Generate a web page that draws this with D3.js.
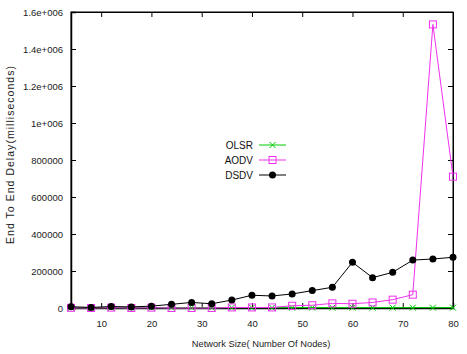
<!DOCTYPE html>
<html><head><meta charset="utf-8">
<script src="https://cdn.jsdelivr.net/npm/d3@7/dist/d3.min.js"></script>
<style>body{margin:0;background:#fff}</style>
</head><body>
<script>
const nodes = [4,8,12,16,20,24,28,32,36,40,44,48,52,56,60,64,68,72,76,80];
const olsr = [1000,1000,1500,1500,1500,1500,1500,2000,2000,2000,2000,2000,2000,2000,2000,2000,2000,2000,2000,2000];
const aodv = [1000,0,2000,0,2000,0,0,0,3000,3000,3000,12000,15000,25000,23000,30000,45000,72000,1533000,710000];
const dsdv = [7000,3000,8000,6000,10000,20000,30000,23000,43000,69000,65000,76000,94000,112000,247000,164000,193000,259000,265000,274000];
const xTicks = [10,20,30,40,50,60,70,80];
const yTicks = [0,200000,400000,600000,800000,1000000,1200000,1400000,1600000];
const yTickLabels = ["0","200000","400000","600000","800000","1e+006","1.2e+006","1.4e+006","1.6e+006"];
const seriesNames = ["OLSR","AODV","DSDV"];
const seriesColors = ["#00cc00","#f030f0","#000000"];

const W=467,H=354, L=71, R=453, T=12, B=308;
const svg = d3.select("body").append("svg").attr("width",W).attr("height",H);
const x = d3.scaleLinear().domain([4,80]).range([L,R]);
const y = d3.scaleLinear().domain([0,1600000]).range([B,T]);
const font = "'Liberation Sans', Arial, sans-serif";

// frame
svg.append("rect").attr("x",L).attr("y",T).attr("width",R-L).attr("height",B-T)
  .attr("fill","none").attr("stroke","#000").attr("stroke-width",1);

// axes (inward ticks)
const gx = svg.append("g").attr("transform",`translate(0,${B})`)
  .call(d3.axisBottom(x).tickValues(xTicks).tickSize(-5).tickPadding(12).tickFormat(d3.format("d")));
const gxt = svg.append("g").attr("transform",`translate(0,${T})`)
  .call(d3.axisTop(x).tickValues(xTicks).tickSize(-5).tickFormat(""));
const gy = svg.append("g").attr("transform",`translate(${L},0)`)
  .call(d3.axisLeft(y).tickValues(yTicks).tickSize(-5).tickPadding(8).tickFormat((d,i)=>yTickLabels[i]));
const gyr = svg.append("g").attr("transform",`translate(${R},0)`)
  .call(d3.axisRight(y).tickValues(yTicks).tickSize(-5).tickFormat(""));
[gx,gxt,gy,gyr].forEach(g=>{
  g.select(".domain").attr("stroke","#000").attr("stroke-width",1);
  g.selectAll("line").attr("stroke","#000");
  g.selectAll("text").attr("font-family",font).attr("font-size",9.5).attr("fill","#222");
});
gy.select(".domain").attr("stroke-width",1.5);
gx.select(".domain").attr("stroke-width",1.5);

const data = [olsr,aodv,dsdv];
const line = d3.line().x((d,i)=>x(nodes[i])).y(d=>y(d));

function marker(g, k, cx, cy, color){
  if(k===0){
    const s=3;
    g.append("path").attr("d",`M${cx-s},${cy-s}L${cx+s},${cy+s}M${cx-s},${cy+s}L${cx+s},${cy-s}`)
      .attr("stroke",color).attr("stroke-width",1).attr("fill","none");
  } else if(k===1){
    g.append("rect").attr("x",cx-3.5).attr("y",cy-3.5).attr("width",7).attr("height",7)
      .attr("fill","none").attr("stroke",color).attr("stroke-width",1);
  } else {
    g.append("circle").attr("cx",cx).attr("cy",cy).attr("r",3.5).attr("fill",color);
  }
}

[0,1,2].forEach(k=>{
  const g = svg.append("g");
  g.append("path").datum(data[k]).attr("d",line).attr("fill","none")
    .attr("stroke",seriesColors[k]).attr("stroke-width",1);
  data[k].forEach((v,i)=>marker(g,k,x(nodes[i]),y(v),seriesColors[k]));
});

// legend
const legY = [145,160,175];
seriesNames.forEach((n,k)=>{
  const g = svg.append("g");
  g.append("text").attr("x",253).attr("y",legY[k]).attr("dy","0.35em").attr("text-anchor","end")
    .attr("font-family",font).attr("font-size",10).attr("fill","#111").text(n);
  g.append("line").attr("x1",259).attr("x2",286).attr("y1",legY[k]).attr("y2",legY[k])
    .attr("stroke",seriesColors[k]).attr("stroke-width",1);
  marker(g,k,272.5,legY[k],seriesColors[k]);
});

// axis titles
svg.append("text").attr("x",261).attr("y",347).attr("text-anchor","middle")
  .attr("font-family",font).attr("font-size",9.3).attr("fill","#222").text("Network Size( Number Of Nodes)");
svg.append("text").attr("transform","translate(14,155) rotate(-90)").attr("text-anchor","middle")
  .attr("font-family",font).attr("font-size",10.5).attr("fill","#222")
  .attr("textLength",178).attr("lengthAdjust","spacing").text("End To End Delay(milliseconds)");
</script>
</body></html>
